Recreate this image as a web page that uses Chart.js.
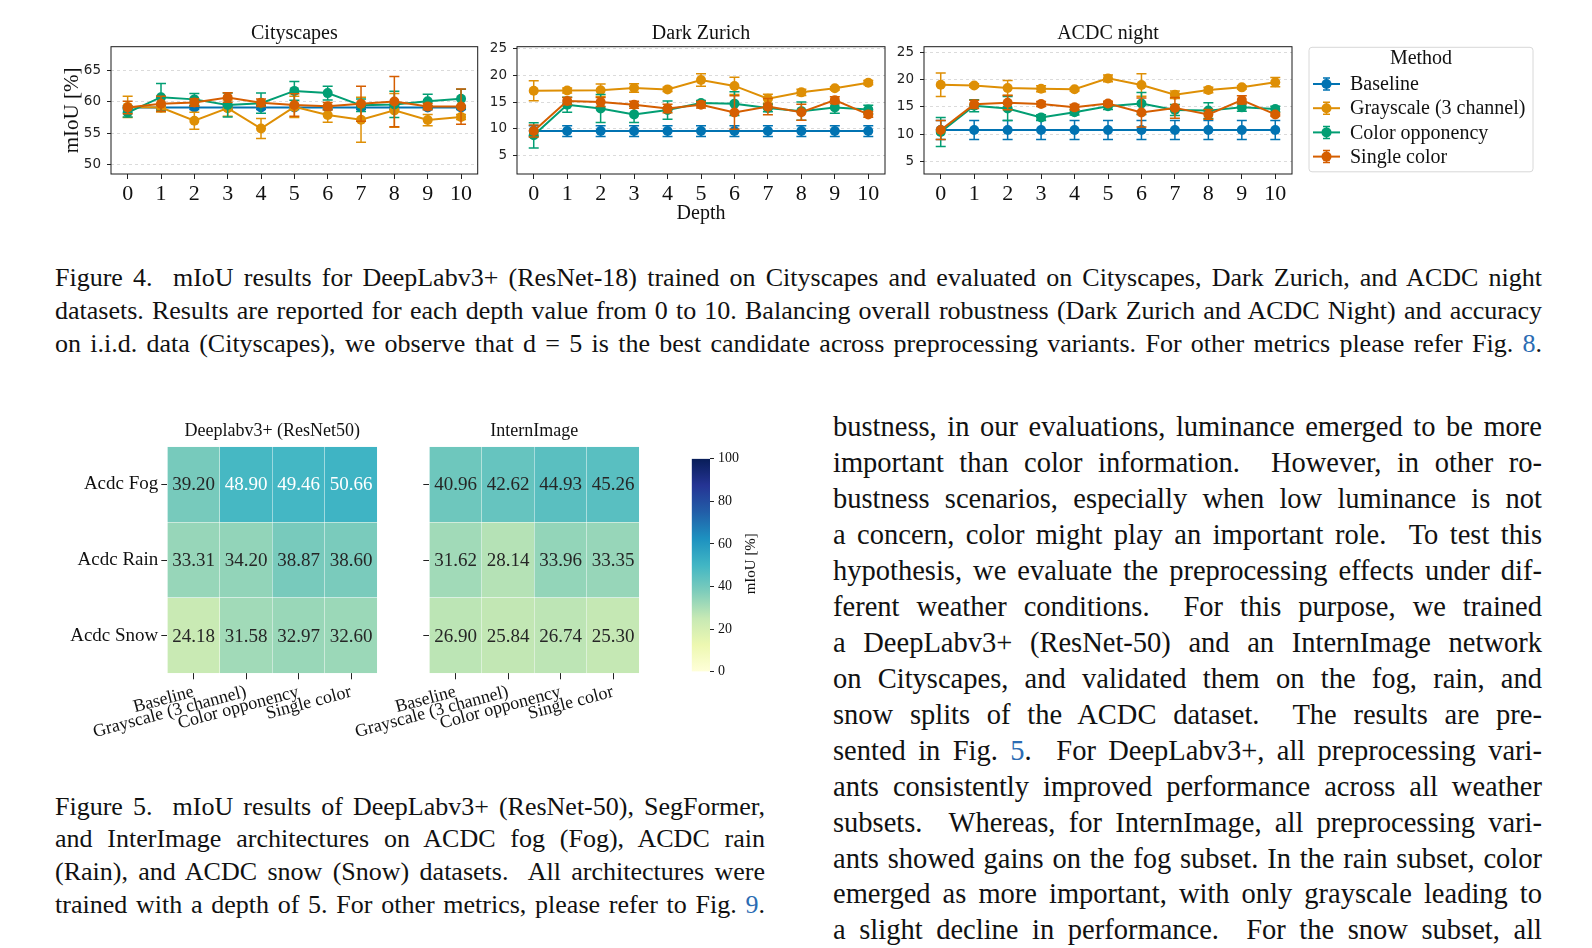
<!DOCTYPE html>
<html>
<head>
<meta charset="utf-8">
<script src="https://cdn.jsdelivr.net/npm/chart.js@4.4.1/dist/chart.umd.min.js"></script>
<style>
body { margin: 0; background: #fff; width: 1592px; height: 948px; position: relative; overflow: hidden; font-family: "Liberation Serif", "Times New Roman", serif; color: #111; }
canvas { position: absolute; }
.ln { position: absolute; text-align: justify; text-align-last: justify; }
.cap { font-size: 26px; line-height: 32px; }
.body { font-size: 28.5px; line-height: 36px; }
.ref { color: #2b6cb3; }
</style>
</head>
<body>
<canvas id="city" width="490" height="230" style="left:0px;top:0px"></canvas>
<canvas id="zurich" width="410" height="230" style="left:480px;top:0px"></canvas>
<canvas id="acdc" width="702" height="230" style="left:890px;top:0px"></canvas>
<canvas id="deeplab" width="400" height="350" style="left:0px;top:400px"></canvas>
<canvas id="intern" width="320" height="350" style="left:340px;top:400px"></canvas>
<canvas id="cbar" width="130" height="350" style="left:660px;top:400px"></canvas>
<div id="text"></div>
<script>
// ---- data ----
const depths = [0, 1, 2, 3, 4, 5, 6, 7, 8, 9, 10];
const methods = ["Baseline", "Grayscale (3 channel)", "Color opponency", "Single color"];
const methodColors = ["#0173b2", "#de8f05", "#029e73", "#d55e00"];

// Cityscapes
const cityBaseline = [59.1, 59.1, 59.1, 59.1, 59.1, 59.1, 59.1, 59.1, 59.1, 59.1, 59.1];
const cityBaselineErr = [0.3, 0.3, 0.3, 0.3, 0.3, 0.3, 0.3, 0.3, 0.3, 0.3, 0.3];
const cityGray = [59.2, 59.1, 57.0, 59.0, 55.75, 59.2, 57.9, 57.15, 58.65, 57.1, 57.6];
const cityGrayErr = [1.7, 0.7, 1.35, 1.3, 1.6, 1.7, 1.15, 3.6, 2.7, 0.9, 0.4];
const cityOpp = [58.3, 60.75, 60.4, 59.5, 59.8, 61.75, 61.4, 59.45, 59.6, 60.1, 60.5];
const cityOppErr = [0.7, 2.2, 0.95, 1.9, 1.6, 1.5, 1.1, 1.0, 2.1, 1.1, 1.5];
const citySingle = [59.1, 59.7, 59.9, 60.7, 59.85, 59.5, 59.3, 59.7, 60.05, 59.25, 59.25];
const citySingleErr = [1.0, 1.2, 0.6, 0.75, 0.6, 1.8, 0.6, 2.8, 4.0, 0.5, 2.8];
const cityTicks = [50, 55, 60, 65];

// Dark Zurich
const zurBaseline = [9.6, 9.6, 9.6, 9.6, 9.6, 9.6, 9.6, 9.6, 9.6, 9.6, 9.6];
const zurBaselineErr = [1.0, 1.0, 1.0, 1.0, 1.0, 1.0, 1.0, 1.0, 1.0, 1.0, 1.0];
const zurGray = [17.1, 17.15, 17.2, 17.6, 17.35, 19.1, 18.0, 15.6, 16.8, 17.55, 18.6];
const zurGrayErr = [1.85, 0.45, 1.15, 0.8, 0.4, 1.15, 1.6, 0.85, 0.6, 0.3, 0.4];
const zurOpp = [8.8, 14.5, 13.8, 12.7, 13.5, 14.8, 14.7, 13.9, 13.3, 14.0, 13.6];
const zurOppErr = [2.35, 1.4, 2.6, 1.5, 1.7, 0.5, 2.2, 0.7, 1.7, 1.1, 0.8];
const zurSingle = [9.6, 15.2, 15.0, 14.5, 13.8, 14.5, 13.05, 14.15, 13.1, 15.35, 12.7];
const zurSingleErr = [1.1, 0.65, 0.85, 0.65, 0.8, 0.6, 3.1, 1.5, 1.5, 0.65, 0.55];
const zurTicks = [5, 10, 15, 20, 25];

// ACDC night
const acdcBaseline = [10.75, 10.75, 10.75, 10.75, 10.75, 10.75, 10.75, 10.75, 10.75, 10.75, 10.75];
const acdcBaselineErr = [1.75, 1.75, 1.75, 1.75, 1.75, 1.75, 1.75, 1.75, 1.75, 1.75, 1.75];
const acdcGray = [19.05, 18.9, 18.45, 18.3, 18.2, 20.2, 19.0, 17.2, 18.07, 18.56, 19.5];
const acdcGrayErr = [2.15, 0.3, 1.35, 0.55, 0.3, 0.6, 2.05, 0.7, 0.5, 0.3, 0.85];
const acdcOpp = [10.4, 15.2, 14.7, 13.06, 14.0, 15.1, 15.6, 14.4, 14.3, 14.9, 14.6];
const acdcOppErr = [2.65, 1.1, 2.2, 0.5, 0.5, 0.6, 2.0, 1.0, 1.45, 0.7, 0.5];
const acdcSingle = [10.75, 15.45, 15.75, 15.5, 14.9, 15.6, 13.96, 14.8, 13.6, 16.25, 13.6];
const acdcSingleErr = [1.75, 0.75, 1.3, 0.45, 0.5, 0.4, 2.65, 1.9, 0.9, 0.75, 0.3];
const acdcTicks = [5, 10, 15, 20, 25];

// heatmaps (Fig. 5)
const rowLabels = ["Acdc Fog", "Acdc Rain", "Acdc Snow"];
const deeplabFog = [39.20, 48.90, 49.46, 50.66];
const deeplabRain = [33.31, 34.20, 38.87, 38.60];
const deeplabSnow = [24.18, 31.58, 32.97, 32.60];
const internFog = [40.96, 42.62, 44.93, 45.26];
const internRain = [31.62, 28.14, 33.96, 33.35];
const internSnow = [26.90, 25.84, 26.74, 25.30];
const cbarTicks = [0, 20, 40, 60, 80, 100];

// ---- helpers ----
const serif = "'Liberation Serif', 'Times New Roman', serif";
const sans = "'DejaVu Sans', sans-serif";
Chart.defaults.font.family = serif;
Chart.defaults.color = "#111";

const ylgnbuStops = [[255,255,217],[237,248,177],[199,233,180],[127,205,187],[65,182,196],[29,145,192],[34,94,168],[37,52,148],[8,29,88]];
function ylgnbu(t) {
    t = Math.max(0, Math.min(1, t)) * (ylgnbuStops.length - 1);
    let i = Math.min(Math.floor(t), ylgnbuStops.length - 2);
    let f = t - i;
    return ylgnbuStops[i].map((c, k) => c + (ylgnbuStops[i + 1][k] - c) * f);
}
function css(rgb) { return "rgb(" + rgb.map(v => Math.round(v)).join(",") + ")"; }
function lum(rgb) {
    let c = rgb.map(v => { v /= 255; return v <= 0.03928 ? v / 12.92 : Math.pow((v + 0.055) / 1.055, 2.4); });
    return 0.2126 * c[0] + 0.7152 * c[1] + 0.0722 * c[2];
}

const errorBars = {
    id: "errorBars",
    beforeDatasetDraw(chart, args) {
        let ds = chart.data.datasets[args.index];
        if (!ds.errors) return;
        let ctx = chart.ctx, y = chart.scales.y;
        ctx.save();
        ctx.strokeStyle = ds.borderColor;
        ctx.lineWidth = 1.5;
        args.meta.data.forEach((pt, j) => {
            let v = ds.data[j].y, e = ds.errors[j];
            let top = y.getPixelForValue(v + e), bot = y.getPixelForValue(v - e);
            ctx.beginPath();
            ctx.moveTo(pt.x, top); ctx.lineTo(pt.x, bot);
            ctx.moveTo(pt.x - 5, top); ctx.lineTo(pt.x + 5, top);
            ctx.moveTo(pt.x - 5, bot); ctx.lineTo(pt.x + 5, bot);
            ctx.stroke();
        });
        ctx.restore();
    }
};

const frame = {
    id: "frame",
    afterDraw(chart) {
        let a = chart.chartArea, ctx = chart.ctx;
        ctx.save();
        ctx.strokeStyle = "#1a1a1a";
        ctx.lineWidth = 1;
        ctx.strokeRect(a.left, a.top, a.right - a.left, a.bottom - a.top);
        ctx.restore();
    }
};

const methodLegend = {
    id: "methodLegend",
    afterDraw(chart) {
        let ctx = chart.ctx;
        let x0 = chart.chartArea.right + 17, y0 = 47.3, w = 224, h = 124.5;
        ctx.save();
        ctx.fillStyle = "rgba(255,255,255,0.8)";
        ctx.strokeStyle = "#d8d8d8";
        ctx.lineWidth = 1;
        ctx.beginPath();
        ctx.roundRect(x0, y0, w, h, 3);
        ctx.fill(); ctx.stroke();
        ctx.font = "20px " + serif;
        ctx.textBaseline = "middle";
        ctx.textAlign = "center";
        ctx.fillStyle = "#111";
        ctx.fillText("Method", x0 + w / 2, 58.5);
        ctx.textAlign = "left";
        chart.data.datasets.forEach((ds, i) => {
            let y = 84 + i * 24.2, cx = x0 + 17.5;
            ctx.strokeStyle = ds.borderColor;
            ctx.lineWidth = 2;
            ctx.beginPath(); ctx.moveTo(x0 + 4, y); ctx.lineTo(x0 + 31, y); ctx.stroke();
            ctx.lineWidth = 1.5;
            ctx.beginPath();
            ctx.moveTo(cx, y - 6); ctx.lineTo(cx, y + 6);
            ctx.moveTo(cx - 3.5, y - 6); ctx.lineTo(cx + 3.5, y - 6);
            ctx.moveTo(cx - 3.5, y + 6); ctx.lineTo(cx + 3.5, y + 6);
            ctx.stroke();
            ctx.fillStyle = ds.borderColor;
            ctx.beginPath(); ctx.arc(cx, y, 5, 0, 2 * Math.PI); ctx.fill();
            ctx.fillStyle = "#111";
            ctx.fillText(ds.label, x0 + 41, y + 1);
        });
        ctx.restore();
    }
};

function lineChart(id, cfg) {
    let datasets = methods.map((m, i) => ({
        label: m,
        data: depths.map((d, j) => ({ x: d, y: cfg.values[i][j] })),
        errors: cfg.errors[i],
        borderColor: methodColors[i],
        backgroundColor: methodColors[i],
        borderWidth: 2,
        pointRadius: 5,
        pointBorderWidth: 0,
        pointBackgroundColor: methodColors[i],
        order: methods.length - i
    }));
    return new Chart(document.getElementById(id), {
        type: "line",
        data: { datasets: datasets },
        options: {
            responsive: false,
            animation: false,
            events: [],
            layout: { padding: cfg.padding },
            plugins: {
                legend: { display: false },
                tooltip: { enabled: false },
                title: {
                    display: true, text: cfg.title, fullSize: false, color: "#111",
                    font: { family: serif, size: 20, weight: "normal", lineHeight: 1 },
                    padding: { top: 0, bottom: 3.4 }
                }
            },
            scales: {
                x: {
                    type: "linear", min: -0.5, max: 10.5,
                    afterBuildTicks: s => { s.ticks = depths.map(v => ({ value: v })); },
                    afterFit: s => { s.height = 56; },
                    grid: { drawOnChartArea: false, tickLength: 5, tickColor: "#222", tickWidth: 1 },
                    border: { display: false },
                    ticks: { font: { family: serif, size: 22 }, color: "#111", padding: 2, maxRotation: 0, autoSkip: false },
                    title: {
                        display: !!cfg.xTitle, text: cfg.xTitle || "", color: "#111",
                        font: { family: serif, size: 20, lineHeight: 1 }, padding: { top: 0, bottom: 6 }
                    }
                },
                y: {
                    min: cfg.yMin, max: cfg.yMax,
                    afterBuildTicks: s => { s.ticks = cfg.yTicks.map(v => ({ value: v })); },
                    afterFit: s => { s.width = cfg.yWidth; },
                    grid: { color: "#d2d2d2", lineWidth: 0.8, tickLength: 4, tickColor: "#222", tickWidth: 1, tickBorderDash: [] },
                    border: { display: false, dash: [3, 3] },
                    ticks: { font: { family: sans, size: 13.5 }, color: "#222", padding: 6 },
                    title: {
                        display: !!cfg.yTitle, text: cfg.yTitle || "", color: "#111",
                        font: { family: serif, size: 21, lineHeight: 1 }, padding: { top: 0, bottom: 0 }
                    }
                }
            }
        },
        plugins: [errorBars, frame].concat(cfg.extra || [])
    });
}

lineChart("city", {
    title: "Cityscapes",
    values: [cityBaseline, cityGray, cityOpp, citySingle],
    errors: [cityBaselineErr, cityGrayErr, cityOppErr, citySingleErr],
    yMin: 48.5, yMax: 68.8, yTicks: cityTicks, yWidth: 49, yTitle: "mIoU [%]",
    padding: { left: 62, right: 12.3, top: 23.3, bottom: 0 }
});
lineChart("zurich", {
    title: "Dark Zurich",
    values: [zurBaseline, zurGray, zurOpp, zurSingle],
    errors: [zurBaselineErr, zurGrayErr, zurOppErr, zurSingleErr],
    yMin: 1.6, yMax: 25.3, yTicks: zurTicks, yWidth: 37, xTitle: "Depth",
    padding: { left: 0, right: 3, top: 23.3, bottom: 0 }
});
lineChart("acdc", {
    title: "ACDC night",
    values: [acdcBaseline, acdcGray, acdcOpp, acdcSingle],
    errors: [acdcBaselineErr, acdcGrayErr, acdcOppErr, acdcSingleErr],
    yMin: 2.7, yMax: 26, yTicks: acdcTicks, yWidth: 34,
    padding: { left: 0, right: 300, top: 23.3, bottom: 0 },
    extra: [methodLegend]
});

const cellLabels = {
    id: "cellLabels",
    afterDatasetsDraw(chart) {
        let ctx = chart.ctx;
        ctx.save();
        ctx.font = "19px " + serif;
        ctx.textAlign = "center";
        ctx.textBaseline = "middle";
        chart.data.datasets.forEach((ds, i) => {
            chart.getDatasetMeta(i).data.forEach((bar, j) => {
                let v = ds.values[j];
                ctx.fillStyle = lum(ylgnbu(v / 100)) > 0.408 ? "#262626" : "#ffffff";
                ctx.fillText(v.toFixed(2), bar.x, (bar.y + bar.base) / 2 + 1);
            });
        });
        ctx.restore();
    }
};

function heatmap(id, cfg) {
    // stacked from the bottom: snow, rain, fog
    let datasets = [cfg.snow, cfg.rain, cfg.fog].map(vals => ({
        data: vals.map(() => 1),
        values: vals,
        backgroundColor: vals.map(v => css(ylgnbu(v / 100))),
        borderColor: "rgba(255,255,255,0.7)",
        borderWidth: 0.5,
        borderSkipped: false,
        barPercentage: 1,
        categoryPercentage: 1
    }));
    return new Chart(document.getElementById(id), {
        type: "bar",
        data: { labels: methods, datasets: datasets },
        options: {
            responsive: false,
            animation: false,
            events: [],
            layout: { padding: cfg.padding },
            plugins: {
                legend: { display: false },
                tooltip: { enabled: false },
                title: {
                    display: true, text: cfg.title, fullSize: false, color: "#111",
                    font: { family: serif, size: 18, weight: "normal", lineHeight: 1 },
                    padding: { top: 0, bottom: 6 }
                }
            },
            scales: {
                x: {
                    stacked: true,
                    afterFit: s => { s.height = 76.7; },
                    grid: { drawOnChartArea: false, offset: false, tickLength: 6, tickColor: "#222" },
                    border: { display: false },
                    ticks: { font: { family: serif, size: 18 }, color: "#111", minRotation: 15, maxRotation: 15, autoSkip: false, padding: 2 }
                },
                y: {
                    stacked: true, min: 0, max: 3,
                    afterBuildTicks: s => { s.ticks = [0.5, 1.5, 2.5].map(v => ({ value: v })); },
                    afterFit: s => { s.width = cfg.yWidth; },
                    grid: { drawOnChartArea: false, tickLength: 6, tickColor: "#222" },
                    border: { display: false },
                    ticks: {
                        font: { family: serif, size: 19 }, color: "#111", padding: 3,
                        callback: v => cfg.showRows ? rowLabels[Math.round(2.5 - v)] : ""
                    }
                }
            }
        },
        plugins: [cellLabels]
    });
}

heatmap("deeplab", {
    title: "Deeplabv3+ (ResNet50)",
    fog: deeplabFog, rain: deeplabRain, snow: deeplabSnow,
    showRows: true, yWidth: 167.3,
    padding: { left: 0, right: 22.7, top: 22.7, bottom: 0 }
});
heatmap("intern", {
    title: "InternImage",
    fog: internFog, rain: internRain, snow: internSnow,
    showRows: false, yWidth: 39.3,
    padding: { left: 50, right: 20.7, top: 22.7, bottom: 0 }
});

const cbarLabel = {
    id: "cbarLabel",
    afterDraw(chart) {
        let ctx = chart.ctx, a = chart.chartArea;
        ctx.save();
        ctx.translate(a.right + 40.7, (a.top + a.bottom) / 2 - 1.5);
        ctx.rotate(-Math.PI / 2);
        ctx.font = "15px " + serif;
        ctx.fillStyle = "#111";
        ctx.textAlign = "center";
        ctx.textBaseline = "middle";
        ctx.fillText("mIoU [%]", 0, 0);
        ctx.restore();
    }
};

new Chart(document.getElementById("cbar"), {
    type: "bar",
    data: {
        labels: [""],
        datasets: [{
            data: [100],
            borderWidth: 0,
            barPercentage: 1,
            categoryPercentage: 1,
            backgroundColor: c => {
                let ch = c.chart;
                if (!ch.chartArea) return css(ylgnbu(0.5));
                let y = ch.scales.y;
                let g = ch.ctx.createLinearGradient(0, y.getPixelForValue(0), 0, y.getPixelForValue(100));
                ylgnbuStops.forEach((s, i) => g.addColorStop(i / (ylgnbuStops.length - 1), css(s)));
                return g;
            }
        }]
    },
    options: {
        responsive: false,
        animation: false,
        events: [],
        layout: { padding: { left: 31.7, right: 0, top: 58.8, bottom: 78.3 } },
        plugins: { legend: { display: false }, tooltip: { enabled: false } },
        scales: {
            x: { display: false },
            y: {
                position: "right", min: 0, max: 100,
                afterBuildTicks: s => { s.ticks = cbarTicks.map(v => ({ value: v })); },
                afterFit: s => { s.width = 80; },
                grid: { drawOnChartArea: false, tickLength: 4, tickColor: "#222" },
                border: { display: false },
                ticks: { font: { family: serif, size: 14 }, color: "#111", padding: 4 }
            }
        }
    },
    plugins: [cbarLabel]
});

// ---- page text ----
const cap4Lines = [
    "Figure 4.&nbsp; mIoU results for DeepLabv3+ (ResNet-18) trained on Cityscapes and evaluated on Cityscapes, Dark Zurich, and ACDC night",
    "datasets. Results are reported for each depth value from 0 to 10. Balancing overall robustness (Dark Zurich and ACDC Night) and accuracy",
    "on i.i.d. data (Cityscapes), we observe that d = 5 is the best candidate across preprocessing variants. For other metrics please refer Fig. <span class=\"ref\">8</span>."
];
const cap5Lines = [
    "Figure 5.&nbsp; mIoU results of DeepLabv3+ (ResNet-50), SegFormer,",
    "and InterImage architectures on ACDC fog (Fog), ACDC rain",
    "(Rain), and ACDC snow (Snow) datasets.&nbsp; All architectures were",
    "trained with a depth of 5. For other metrics, please refer to Fig. <span class=\"ref\">9</span>."
];
const bodyLines = [
    "bustness, in our evaluations, luminance emerged to be more",
    "important than color information.&nbsp; However, in other ro-",
    "bustness scenarios, especially when low luminance is not",
    "a concern, color might play an important role.&nbsp; To test this",
    "hypothesis, we evaluate the preprocessing effects under dif-",
    "ferent weather conditions.&nbsp; For this purpose, we trained",
    "a DeepLabv3+ (ResNet-50) and an InternImage network",
    "on Cityscapes, and validated them on the fog, rain, and",
    "snow splits of the ACDC dataset.&nbsp; The results are pre-",
    "sented in Fig. <span class=\"ref\">5</span>.&nbsp; For DeepLabv3+, all preprocessing vari-",
    "ants consistently improved performance across all weather",
    "subsets.&nbsp; Whereas, for InternImage, all preprocessing vari-",
    "ants showed gains on the fog subset. In the rain subset, color",
    "emerged as more important, with only grayscale leading to",
    "a slight decline in performance.&nbsp; For the snow subset, all"
];

function placeLines(lines, cls, left, width, firstTop, step) {
    let holder = document.getElementById("text");
    lines.forEach((html, i) => {
        let d = document.createElement("div");
        d.className = "ln " + cls;
        d.style.left = left + "px";
        d.style.width = width + "px";
        d.style.top = (firstTop + i * step) + "px";
        d.innerHTML = html;
        holder.appendChild(d);
    });
}
placeLines(cap4Lines, "cap", 55, 1487, 261.6, 33.05);
placeLines(cap5Lines, "cap", 55, 710, 790.5, 32.8);
placeLines(bodyLines, "body", 833, 709, 409, 35.96);
</script>
</body>
</html>
